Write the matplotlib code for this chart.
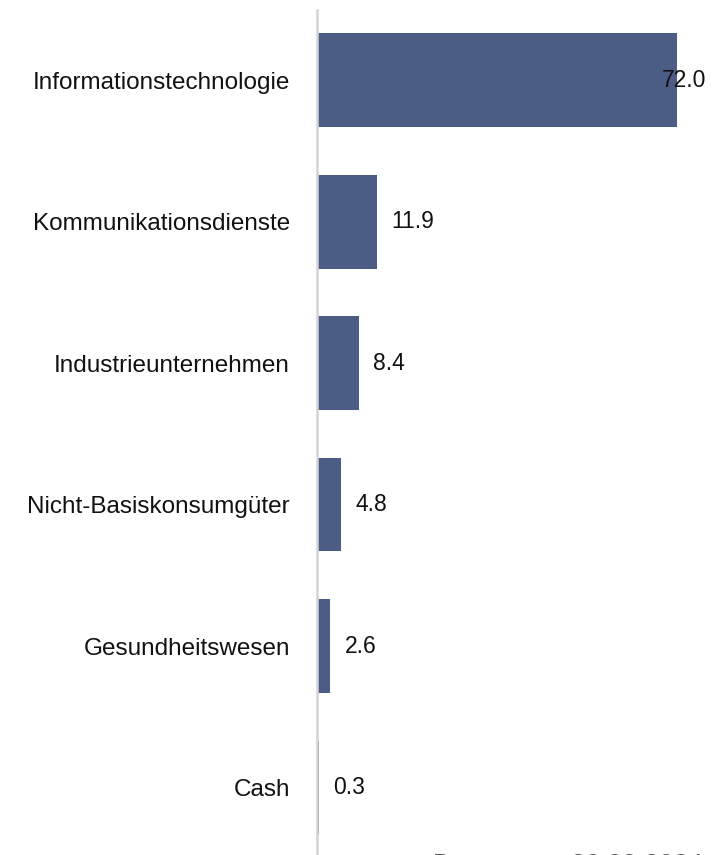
import matplotlib
matplotlib.use("Agg")
import matplotlib.pyplot as plt

categories = ["Informationstechnologie", "Kommunikationsdienste", "Industrieunternehmen",
              "Nicht-Basiskonsumgüter", "Gesundheitswesen", "Cash"]
values = [72.0, 11.9, 8.4, 4.8, 2.6, 0.3]
footer = "Daten per   30.09.2024"

bar_color = "#4b5d84"

fig = plt.figure(figsize=(7.15, 8.55), dpi=100)
ax = fig.add_axes([317/715, 0, 1 - 317/715, 1 - 10/855])

ypos = list(range(len(categories)))
ax.barh(ypos, values, height=0.664, color=bar_color, zorder=2)
ax.set_xlim(0, 79.6)
ax.set_ylim(5.477, -0.495)

for y, v in zip(ypos, values):
    x = min(v + 2.9, 69.0)
    ax.text(x, y, f"{v:.1f}", va="center", ha="left", fontsize=16.5,
            family="Liberation Sans", color="#111111", zorder=3)

ax.set_yticks(ypos)
ax.set_yticklabels(categories, fontsize=17.5, family="Liberation Sans", color="#111111")
ax.tick_params(axis="y", length=0, pad=19.5)
ax.set_xticks([])
for s in ["top", "right", "bottom"]:
    ax.spines[s].set_visible(False)
ax.spines["left"].set_color("#d4d4d4")
ax.spines["left"].set_linewidth(1.8)

fig.text(433/715, -17/855, footer, fontsize=19, family="Liberation Sans",
         color="#555555", ha="left", va="baseline")

fig.savefig("out.png", dpi=100)
